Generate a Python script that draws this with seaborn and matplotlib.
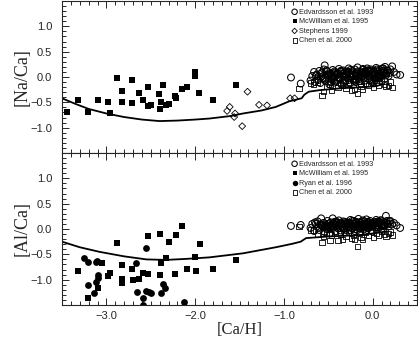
import matplotlib
matplotlib.use("Agg")
import matplotlib.pyplot as plt
import seaborn as sns
from matplotlib.ticker import MultipleLocator

# ---- data ----
# McWilliam et al. 1995 (filled squares)
mcw_cah_na = [-3.44, -3.32, -3.21, -3.09, -2.98, -2.96, -2.88, -2.82, -2.82, -2.71,
              -2.71, -2.63, -2.59, -2.53, -2.53, -2.50, -2.41, -2.40, -2.38, -2.36,
              -2.33, -2.29, -2.23, -2.21, -2.15, -2.09, -2.00, -2.00, -1.96, -1.80, -1.54]
mcw_naca = [-0.69, -0.46, -0.70, -0.46, -0.49, -0.72, -0.01, -0.28, -0.49, -0.06,
            -0.51, -0.32, -0.45, -0.19, -0.57, -0.55, -0.34, -0.64, -0.49, -0.16,
            -0.56, -0.54, -0.38, -0.41, -0.23, -0.20, 0.02, 0.09, -0.32, -0.45, -0.16]
mcw_cah_al = [-3.32, -3.21, -3.09, -3.05, -2.98, -2.96, -2.88, -2.82, -2.82, -2.82,
              -2.71, -2.70, -2.63, -2.59, -2.53, -2.53, -2.40, -2.40, -2.38, -2.33,
              -2.30, -2.23, -2.21, -2.15, -2.09, -2.00, -1.99, -1.95, -1.80, -1.54]
mcw_alca = [-0.82, -1.37, -1.17, -0.67, -0.92, -0.86, -0.28, -0.71, -0.99, -1.07,
            -0.78, -1.01, -0.98, -0.86, -0.13, -0.89, -0.09, -0.91, -0.68, -0.57,
            -0.25, -0.89, -0.12, 0.05, -0.79, -0.56, -0.82, -0.30, -0.79, -0.61]

# Stephens 1999 (open diamonds)
ste_cah = [-1.64, -1.61, -1.55, -1.56, -1.47, -1.41, -1.28, -1.19, -0.93, -0.88]
ste_naca = [-0.67, -0.59, -0.72, -0.79, -0.97, -0.29, -0.55, -0.56, -0.42, -0.42]

# Ryan et al. 1996 (filled circles)
ryan_cah = [-3.25, -3.21, -3.21, -3.14, -3.12, -3.11, -3.12, -3.10, -3.09, -2.67,
            -2.65, -2.59, -2.59, -2.55, -2.55, -2.52, -2.50, -2.38, -2.36, -2.34, -2.12]
ryan_alca = [-0.58, -0.65, -1.11, -1.27, -0.66, -0.63, -1.04, -0.91, -0.97, -0.68,
             -1.25, -1.36, -1.50, -0.37, -1.22, -1.24, -1.27, -1.27, -1.09, -1.17, -1.45]

# Edvardsson et al. 1993 (open circles)
edv_cah = [-0.92, -0.81, -0.70, -0.68, -0.66, -0.65, -0.63, -0.62, -0.60, -0.59,
           -0.58, -0.56, -0.55, -0.54, -0.53, -0.51, -0.50, -0.49, -0.48, -0.46,
           -0.45, -0.44, -0.43, -0.42, -0.40, -0.39, -0.38, -0.37, -0.36, -0.35,
           -0.34, -0.33, -0.31, -0.30, -0.29, -0.28, -0.27, -0.26, -0.25, -0.24,
           -0.23, -0.22, -0.21, -0.20, -0.19, -0.18, -0.17, -0.16, -0.15, -0.14,
           -0.13, -0.12, -0.11, -0.10, -0.09, -0.08, -0.07, -0.06, -0.05, -0.04,
           -0.03, -0.02, -0.01, 0.00, 0.01, 0.02, 0.03, 0.04, 0.05, 0.06,
           0.07, 0.08, 0.09, 0.10, 0.11, 0.12, 0.13, 0.14, 0.15, 0.17,
           0.18, 0.20, 0.22, 0.24, 0.27, 0.31,
           -0.47, -0.41, -0.32, -0.27, -0.15, -0.12, -0.06, 0.00, 0.03, 0.08,
           0.12, 0.16, -0.52, -0.36, -0.21, -0.03,
           -0.64, -0.61, -0.57, -0.55, -0.52, -0.50, -0.47, -0.45, -0.43, -0.41,
           -0.39, -0.37, -0.35, -0.33, -0.31, -0.29, -0.27, -0.25, -0.23, -0.21,
           -0.19, -0.17, -0.15, -0.13, -0.11, -0.09, -0.07, -0.05, -0.03, -0.01,
           0.01, 0.03, 0.05, 0.07, 0.09, 0.11, 0.13, 0.15, 0.17, 0.19,
           -0.58, -0.48, -0.38, -0.28, -0.18, -0.08, 0.02, 0.12, -0.44, -0.34,
           -0.24, -0.14, -0.04, 0.06, -0.54, -0.46, -0.30, -0.20, -0.10, 0.10]
edv_naca = [-0.01, -0.13, -0.07, 0.02, 0.10, -0.10, 0.05, -0.04, 0.12, -0.12,
            0.07, -0.02, 0.15, 0.23, -0.08, 0.11, 0.03, -0.14, 0.08, -0.05,
            0.14, 0.01, -0.11, 0.09, 0.04, -0.06, 0.16, -0.01, 0.10, -0.15,
            0.06, 0.13, -0.09, 0.00, 0.11, -0.03, 0.17, 0.05, -0.12, 0.08,
            0.12, -0.05, 0.03, 0.15, -0.10, 0.07, 0.19, -0.02, 0.10, 0.04,
            -0.13, 0.09, 0.14, 0.02, -0.07, 0.12, 0.06, 0.17, -0.04, 0.10,
            0.01, 0.15, -0.09, 0.08, 0.13, 0.03, -0.06, 0.18, 0.11, 0.05,
            -0.02, 0.14, 0.09, 0.16, 0.04, 0.12, -0.05, 0.20, 0.07, 0.13,
            0.02, 0.15, 0.21, 0.10, 0.05, 0.04,
            -0.10, 0.05, -0.06, 0.10, -0.08, 0.01, 0.13, -0.11, 0.07, -0.03,
            0.17, 0.08, 0.04, 0.12, -0.07, 0.11,
            0.03, -0.06, 0.09, -0.03, 0.13, -0.09, 0.05, -0.02, 0.11, -0.07,
            0.07, -0.04, 0.12, -0.10, 0.04, 0.09, -0.06, 0.14, 0.00, -0.08,
            0.06, 0.11, -0.04, 0.03, 0.16, -0.01, 0.09, 0.13, -0.05, 0.07,
            0.10, -0.03, 0.15, 0.06, 0.01, 0.17, 0.09, 0.03, 0.12, 0.08,
            0.00, 0.06, -0.03, 0.09, 0.02, 0.05, -0.02, 0.09, 0.07, 0.03,
            0.01, 0.08, 0.04, 0.00, -0.06, 0.02, 0.06, -0.03, 0.10, 0.02]
edv_alca = [0.06, 0.08, 0.02, 0.10, -0.04, 0.13, 0.05, 0.15, -0.02, 0.09,
            0.21, 0.04, 0.12, -0.06, 0.08, 0.16, 0.00, 0.11, -0.08, 0.06,
            0.21, 0.03, 0.14, -0.05, 0.09, 0.01, 0.17, 0.07, -0.03, 0.12,
            0.04, 0.15, -0.07, 0.10, 0.02, 0.13, 0.06, -0.02, 0.18, 0.08,
            0.01, 0.11, 0.16, -0.04, 0.07, 0.14, 0.03, 0.20, 0.09, -0.06,
            0.12, 0.05, 0.17, -0.01, 0.10, 0.08, 0.19, 0.02, 0.14, 0.06,
            0.16, 0.04, 0.11, -0.05, 0.09, 0.13, 0.03, 0.18, 0.07, 0.15,
            0.02, 0.12, 0.17, 0.06, 0.10, -0.03, 0.14, 0.08, 0.26, 0.11,
            0.05, 0.16, 0.09, 0.12, 0.07, 0.02,
            0.08, 0.13, 0.00, 0.10, 0.05, 0.15, 0.07, 0.11, 0.03, 0.14,
            0.09, 0.16, 0.06, 0.12, 0.04, 0.10,
            0.10, 0.03, 0.07, 0.12, 0.00, 0.06, 0.13, 0.02, 0.09, 0.15,
            0.04, 0.11, 0.06, 0.01, 0.14, 0.08, 0.03, 0.12, 0.16, 0.05,
            0.10, -0.02, 0.13, 0.07, 0.04, 0.15, 0.09, 0.01, 0.12, 0.06,
            0.11, 0.14, 0.03, 0.10, 0.17, 0.08, 0.05, 0.13, 0.09, 0.15,
            0.07, 0.02, 0.10, 0.05, 0.12, 0.03, 0.09, 0.06, 0.11, 0.04,
            0.08, 0.01, 0.13, 0.07, 0.05, 0.09, 0.12, 0.06, 0.03, 0.08]

# Chen et al. 2000 (open squares)
chen_cah = [-0.83, -0.70, -0.67, -0.62, -0.57, -0.55, -0.52, -0.48, -0.46, -0.43,
            -0.39, -0.36, -0.34, -0.30, -0.27, -0.24, -0.22, -0.20, -0.17, -0.15,
            -0.13, -0.11, -0.08, -0.05, -0.02, 0.01, 0.04, 0.07, 0.10, 0.13,
            0.15, 0.18, 0.20, 0.22]
chen_naca = [-0.23, -0.12, -0.15, -0.10, -0.36, -0.29, -0.18, -0.14, -0.26, -0.08,
             -0.20, -0.12, -0.17, -0.22, -0.10, -0.26, -0.15, -0.24, -0.32, -0.09,
             -0.19, -0.24, -0.13, -0.17, -0.06, -0.21, -0.11, -0.16, -0.08, -0.14,
             -0.19, -0.16, -0.10, -0.20]
chen_alca = [0.05, -0.02, -0.02, -0.10, -0.27, -0.15, -0.08, -0.23, -0.12, -0.05,
             -0.23, -0.10, -0.20, -0.14, -0.07, -0.18, -0.12, -0.21, -0.34, -0.09,
             -0.16, -0.20, -0.06, -0.13, -0.03, -0.17, -0.08, -0.12, -0.04, -0.10,
             -0.15, -0.09, -0.06, -0.12]

# model curves
mod_cah_na = [-3.50, -3.35, -3.20, -3.00, -2.80, -2.60, -2.40, -2.20, -2.00, -1.84,
              -1.60, -1.46, -1.25, -1.09, -0.94, -0.80, -0.77, -0.72, -0.60, -0.34,
              -0.10, 0.04, 0.12]
mod_naca = [-0.42, -0.53, -0.63, -0.72, -0.79, -0.84, -0.87, -0.86, -0.84, -0.82,
            -0.77, -0.72, -0.66, -0.59, -0.48, -0.42, -0.35, -0.29, -0.26, -0.22,
            -0.20, -0.18, -0.14]
mod_cah_al = [-3.50, -3.30, -3.08, -2.80, -2.55, -2.33, -2.10, -1.84, -1.46, -1.09,
              -0.90, -0.81, -0.75, -0.52, -0.15, 0.04, 0.15]
mod_alca = [-0.25, -0.36, -0.45, -0.54, -0.60, -0.61, -0.59, -0.56, -0.48, -0.36,
            -0.29, -0.25, -0.18, -0.15, -0.12, -0.08, -0.05]

sns.set_style("ticks")
plt.rcParams['font.family'] = ['Liberation Sans', 'DejaVu Sans']

fig = plt.figure(figsize=(4.18, 3.41), dpi=100)
ax1 = fig.add_axes([62/418, 1 - 153/341, 355/418, 152/341])
ax2 = fig.add_axes([62/418, 1 - 305/341, 355/418, 152/341])

open_kw = dict(facecolor='none', edgecolor='black', linewidth=0.6)
edv_kw = dict(facecolor='none', edgecolor='black', linewidth=0.75)
fill_kw = dict(color='black', edgecolor='black', linewidth=0)
ms_sq, ms_circ, ms_open_sq, ms_dia = 14, 24, 14, 12

# top panel
sns.scatterplot(x=edv_cah, y=edv_naca, ax=ax1, marker='o', s=ms_circ,
                label='Edvardsson et al. 1993', **edv_kw)
sns.scatterplot(x=mcw_cah_na, y=mcw_naca, ax=ax1, marker='s', s=ms_sq,
                label='McWilliam et al. 1995', **fill_kw)
sns.scatterplot(x=ste_cah, y=ste_naca, ax=ax1, marker='D', s=ms_dia,
                label='Stephens 1999', **open_kw)
sns.scatterplot(x=chen_cah, y=chen_naca, ax=ax1, marker='s', s=ms_open_sq,
                label='Chen et al. 2000', **open_kw)
sns.lineplot(x=mod_cah_na, y=mod_naca, ax=ax1, sort=False, color='black', lw=1.3)

# bottom panel
sns.scatterplot(x=edv_cah, y=edv_alca, ax=ax2, marker='o', s=ms_circ,
                label='Edvardsson et al. 1993', **edv_kw)
sns.scatterplot(x=mcw_cah_al, y=mcw_alca, ax=ax2, marker='s', s=ms_sq,
                label='McWilliam et al. 1995', **fill_kw)
sns.scatterplot(x=ryan_cah, y=ryan_alca, ax=ax2, marker='o', s=ms_circ,
                label='Ryan et al. 1996', **fill_kw)
sns.scatterplot(x=chen_cah, y=chen_alca, ax=ax2, marker='s', s=ms_open_sq,
                label='Chen et al. 2000', **open_kw)
sns.lineplot(x=mod_cah_al, y=mod_alca, ax=ax2, sort=False, color='black', lw=1.3)

for ax, lab in [(ax1, '[Na/Ca]'), (ax2, '[Al/Ca]')]:
    ax.set_xlim(-3.5, 0.5)
    ax.set_ylim(-1.5, 1.5)
    ax.set_yticks([-1.0, -0.5, 0.0, 0.5, 1.0])
    ax.set_xticks([-3.0, -2.0, -1.0, 0.0])
    ax.xaxis.set_minor_locator(MultipleLocator(0.1))
    ax.yaxis.set_minor_locator(MultipleLocator(0.1))
    ax.tick_params(which='both', direction='in', top=True, right=True, width=0.7)
    ax.tick_params(which='major', length=5, labelsize=8)
    ax.tick_params(which='minor', length=3)
    ax.tick_params(axis='y', pad=7)
    ax.tick_params(axis='x', pad=4)
    for sp in ax.spines.values():
        sp.set_linewidth(0.8)
    ax.set_ylabel(lab, family='Liberation Serif', fontsize=13, labelpad=0)
    ax.legend(loc='upper left', bbox_to_anchor=(0.645, 0.95), frameon=False,
              fontsize=5.2, handletextpad=0.1, labelspacing=0.35,
              handlelength=1.0, borderpad=0, borderaxespad=0, markerscale=0.8)

ax1.tick_params(labelbottom=False)
ax2.set_xticklabels(['\u22123.0', '\u22122.0', '\u22121.0', '0.0'])
ax1.set_xlabel('')
ax2.set_xlabel('[Ca/H]', family='Liberation Serif', fontsize=12, labelpad=1)

fig.savefig('out.png', dpi=100)
